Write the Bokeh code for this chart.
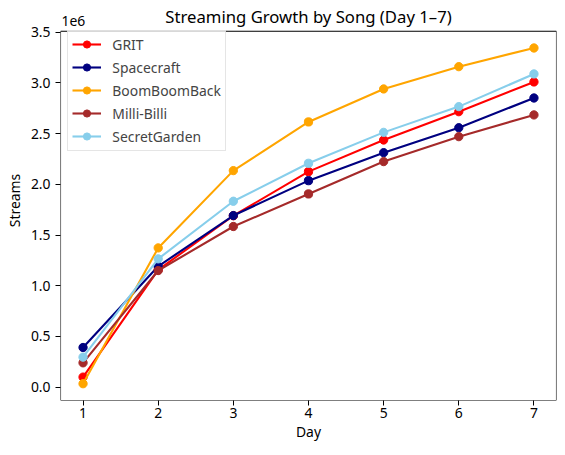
from bokeh.embed import file_html
from bokeh.models import (BoxAnnotation, CustomJSTickFormatter, FixedTicker,
                          Label, Range1d)
from bokeh.plotting import figure
from bokeh.resources import INLINE

days = [1, 2, 3, 4, 5, 6, 7]

songs = ["GRIT", "Spacecraft", "BoomBoomBack", "Milli-Billi", "SecretGarden"]
colors = ["red", "navy", "orange", "brown", "skyblue"]

grit = [99000, 1157000, 1690000, 2125000, 2437000, 2716000, 3009000]
spacecraft = [391000, 1192000, 1692000, 2036000, 2312000, 2558000, 2851000]
boomboomback = [34000, 1373000, 2135000, 2615000, 2940000, 3160000, 3344000]
milli_billi = [240000, 1150000, 1584000, 1905000, 2224000, 2470000, 2684000]
secret_garden = [296000, 1265000, 1833000, 2207000, 2512000, 2766000, 3088000]

y_ticks = [0, 500000, 1000000, 1500000, 2000000, 2500000, 3000000, 3500000]

title_text = "Streaming Growth by Song (Day 1\u20137)"
offset_text = "1e6"

FONT = "Noto Sans"

# frame is 400px tall, the boxed plot area is the lower 369.3px of it;
# the strip above holds the title and the offset text
FRAME_H = 400
BOX_H = 369.3


def plot():
    series = [grit, spacecraft, boomboomback, milli_billi, secret_garden]

    # matplotlib style 5% margins
    low = min(min(s) for s in series)
    high = max(max(s) for s in series)
    pad = (high - low) * 0.05
    y0, y1 = low - pad, high + pad
    y_end = y0 + (y1 - y0) * FRAME_H / BOX_H
    per_px = (y1 - y0) / BOX_H

    p = figure(width=564, height=455,
               x_range=Range1d(0.7, 7.3),
               y_range=Range1d(y0, y_end),
               output_backend="svg", toolbar_location=None,
               min_border_left=60, min_border_right=8,
               min_border_top=0, min_border_bottom=55)

    p.xgrid.visible = False
    p.ygrid.visible = False
    p.outline_line_color = None

    p.add_layout(BoxAnnotation(left=0.7, right=7.3, bottom=y0, top=y1,
                               fill_color=None, line_color="black",
                               line_alpha=1.0, line_width=1.1))

    for name, color, values in zip(songs, colors, series):
        p.line(days, values, line_color=color, line_width=2.1,
               legend_label=name)
        p.scatter(days, values, size=8.3, fill_color=color,
                  line_color=color, legend_label=name)

    legend = p.legend[0]
    legend.location = (7.3, 249.3)
    legend.padding = 4
    legend.spacing = 4
    legend.glyph_width = 29
    legend.glyph_height = 18
    legend.label_height = 18
    legend.label_standoff = 11
    legend.label_text_font = FONT
    legend.label_text_font_size = "13.9px"
    legend.border_line_color = "#cccccc"
    legend.border_line_width = 1
    legend.background_fill_alpha = 0.8

    p.xaxis.ticker = FixedTicker(ticks=days)
    p.yaxis.ticker = FixedTicker(ticks=y_ticks)
    p.yaxis.formatter = CustomJSTickFormatter(
        code="return (tick / 1e6).toFixed(1)")

    p.xaxis.axis_label = "Day"
    p.yaxis.axis_label = "Streams"

    for axis in (p.xaxis, p.yaxis):
        axis.axis_line_color = None
        axis.major_tick_in = 0
        axis.major_tick_out = 5
        axis.minor_tick_line_color = None
        axis.major_tick_line_color = "black"
        axis.major_label_text_font = FONT
        axis.major_label_text_font_size = "13.9px"
        axis.major_label_text_color = "black"
        axis.axis_label_text_font = FONT
        axis.axis_label_text_font_size = "13.9px"
        axis.axis_label_text_font_style = "normal"
        axis.axis_label_text_color = "black"

    p.xaxis.major_label_standoff = 2
    p.xaxis.axis_label_standoff = 1
    p.yaxis.major_label_standoff = 5
    p.yaxis.axis_label_standoff = 4

    # title and offset text sit above the box, tied to its top edge
    p.add_layout(Label(x=4.0, y=y1 + 14.9 * per_px,
                       text=title_text, text_font=FONT, text_color="black",
                       text_font_size="16.7px", text_align="center",
                       text_baseline="middle"))
    p.add_layout(Label(x=0.7, y=y1 + 10.1 * per_px, x_offset=1,
                       text=offset_text, text_font=FONT, text_color="black",
                       text_font_size="13.9px", text_align="left",
                       text_baseline="middle"))

    open("out.html", "w").write(file_html(p, INLINE))


plot()
